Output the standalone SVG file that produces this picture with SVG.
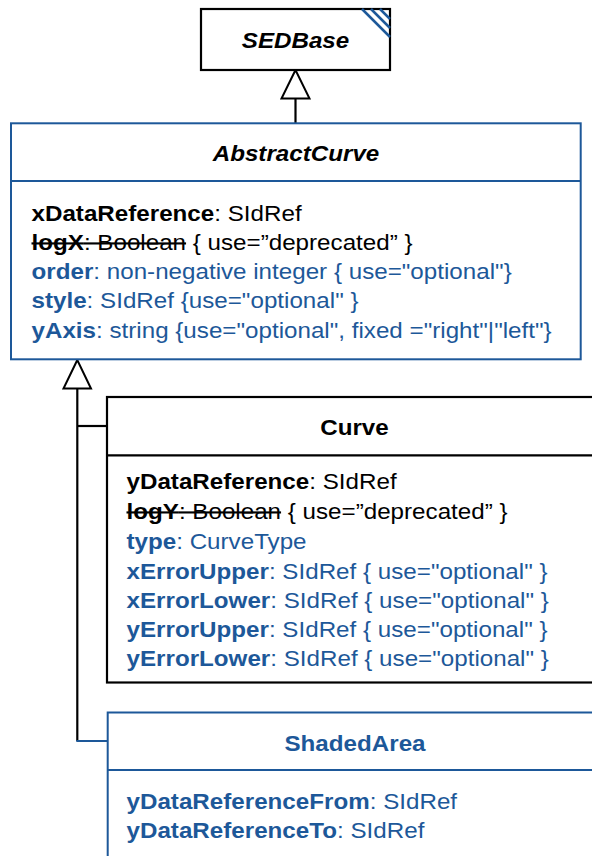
<svg xmlns="http://www.w3.org/2000/svg" width="592" height="856" viewBox="0 0 592 856">
<style>
text{font-family:"Liberation Sans",Arial,sans-serif;font-size:21.4px;fill:#000}
.b{font-weight:bold}
.bi{font-weight:bold;font-style:italic}
.blue{fill:#1d5899}
.st{text-decoration:line-through}
.boxk{fill:#fff;stroke:#000;stroke-width:2.2}
.boxb{fill:#fff;stroke:#1d5899;stroke-width:2}
.lk{stroke:#000;stroke-width:2.2;fill:none}
.lb{stroke:#1d5899;stroke-width:2;fill:none}
.tri{fill:#fff;stroke:#000;stroke-width:2}
</style>
<g id="connectors">
  <line class="lk" x1="295.5" y1="98.5" x2="295.5" y2="123"/>
  <polygon class="tri" points="295.5,70 281.5,98.5 309.5,98.5"/>
  <line class="lk" x1="77.3" y1="388.5" x2="77.3" y2="741"/>
  <line class="lk" x1="77.3" y1="426" x2="107" y2="426"/>
  <line class="lb" x1="76.3" y1="741" x2="107.5" y2="741"/>
  <polygon class="tri" points="77.3,360 63.5,388.5 91,388.5"/>
</g>
<g id="SEDBase">
  <rect class="boxk" x="201" y="9" width="189" height="61"/>
  <g stroke="#1d5899" stroke-width="2.5">
    <line x1="362" y1="9" x2="390" y2="37"/>
    <line x1="371" y1="9" x2="390" y2="28"/>
    <line x1="380" y1="9" x2="390" y2="19"/>
  </g>
  <text class="bi" text-anchor="middle" transform="translate(295.5,47.5) scale(1.13,1)">SEDBase</text>
</g>
<g id="AbstractCurve">
  <rect class="boxb" x="11" y="123.3" width="569.7" height="236"/>
  <line class="lb" x1="11" y1="181" x2="580.7" y2="181"/>
  <text class="bi" text-anchor="middle" transform="translate(296,161) scale(1.13,1)">AbstractCurve</text>
  <text transform="translate(31.5,220.8) scale(1.13,1)"><tspan class="b">xDataReference</tspan>: SIdRef</text>
  <text transform="translate(31.5,250) scale(1.13,1)"><tspan class="st"><tspan class="b">logX</tspan>: Boolean</tspan> { use=”deprecated” }</text>
  <text class="blue" transform="translate(31.5,279.2) scale(1.13,1)"><tspan class="b">order</tspan>: non-negative integer { use="optional"}</text>
  <text class="blue" transform="translate(31.5,308.3) scale(1.13,1)"><tspan class="b">style</tspan>: SIdRef {use="optional" }</text>
  <text class="blue" transform="translate(31.5,337.5) scale(1.13,1)"><tspan class="b">yAxis</tspan>: string {use="optional", fixed ="right"|"left"}</text>
</g>
<g id="Curve">
  <rect class="boxk" x="107" y="397" width="500" height="285.5"/>
  <line class="lk" x1="107" y1="455.3" x2="607" y2="455.3"/>
  <text class="b" text-anchor="middle" transform="translate(354.5,434.5) scale(1.13,1)">Curve</text>
  <text transform="translate(126.5,489.3) scale(1.13,1)"><tspan class="b">yDataReference</tspan>: SIdRef</text>
  <text transform="translate(126.5,519) scale(1.13,1)"><tspan class="st"><tspan class="b">logY</tspan>: Boolean</tspan> { use=”deprecated” }</text>
  <text class="blue" transform="translate(126.5,548.8) scale(1.13,1)"><tspan class="b">type</tspan>: CurveType</text>
  <text class="blue" transform="translate(126.5,578.5) scale(1.13,1)"><tspan class="b">xErrorUpper</tspan>: SIdRef { use="optional" }</text>
  <text class="blue" transform="translate(126.5,607.8) scale(1.13,1)"><tspan class="b">xErrorLower</tspan>: SIdRef { use="optional" }</text>
  <text class="blue" transform="translate(126.5,637.2) scale(1.13,1)"><tspan class="b">yErrorUpper</tspan>: SIdRef { use="optional" }</text>
  <text class="blue" transform="translate(126.5,666.3) scale(1.13,1)"><tspan class="b">yErrorLower</tspan>: SIdRef { use="optional" }</text>
</g>
<g id="ShadedArea">
  <rect class="boxb" x="107.7" y="712.5" width="500" height="200"/>
  <line class="lb" x1="107.7" y1="770" x2="607" y2="770"/>
  <text class="b blue" text-anchor="middle" transform="translate(355,750.5) scale(1.13,1)">ShadedArea</text>
  <text class="blue" transform="translate(126.5,809) scale(1.13,1)"><tspan class="b">yDataReferenceFrom</tspan>: SIdRef</text>
  <text class="blue" transform="translate(126.5,837.5) scale(1.13,1)"><tspan class="b">yDataReferenceTo</tspan>: SIdRef</text>
</g>
</svg>
